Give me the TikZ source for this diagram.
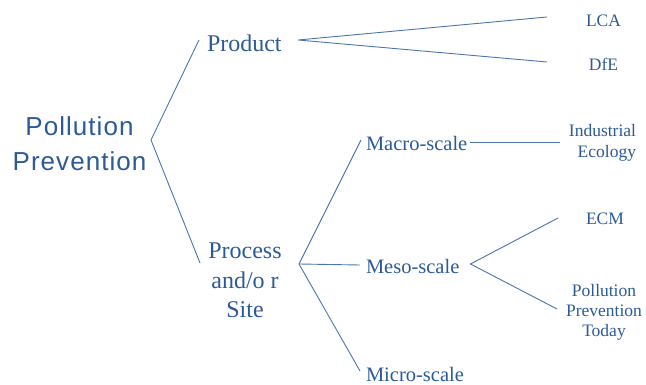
\documentclass[tikz,border=0pt]{standalone}
\usepackage{fontspec}
\setmainfont{Liberation Serif}
\newfontfamily\titlefont{Liberation Sans}[LetterSpace=4.0]
\definecolor{inkblue}{HTML}{2C5A97}
\definecolor{lineblue}{HTML}{4A74AE}
\begin{document}
\begin{tikzpicture}[x=1pt,y=-1pt,
  lbl/.style={inner sep=0pt,outer sep=0pt,text=inkblue},
  big/.style={lbl,font=\titlefont\fontsize{26}{35}\selectfont,align=center},
  mid/.style={lbl,font=\fontsize{24}{29.5}\selectfont,align=center},
  scale label/.style={lbl,font=\fontsize{20.5}{24}\selectfont},
  small/.style={lbl,font=\fontsize{17.5}{20}\selectfont},
  branch/.style={draw=lineblue,line width=0.9pt}]
\useasboundingbox (0,0) rectangle (646,385);

% text nodes
\node[big,anchor=north] (pp) at (79.5,117) {Pollution\\Prevention};
\node[mid,anchor=west] (prod) at (207,43) {Product};
\node[mid,anchor=north] (proc) at (245,243) {Process\\and/o r\\Site};
\node[scale label,anchor=west] (macro) at (366,143) {Macro-scale};
\node[scale label,anchor=west] (meso) at (366,266) {Meso-scale};
\node[scale label,anchor=west] (micro) at (366,374.5) {Micro-scale};
\node[small] (lca) at (603.5,20.5) {LCA};
\node[small] (dfe) at (603.5,64.5) {DfE};
\node[small,align=right,anchor=north east,font=\fontsize{17.5}{21}\selectfont] (ie) at (636,124.5) {Industrial\\Ecology};
\node[small] (ecm) at (605,219) {ECM};
\node[small,align=center,anchor=north] (ppt) at (604,284.5) {Pollution\\Prevention\\Today};

% branch points and line ends
\coordinate (v0) at (151,140);
\coordinate (v1) at (298,40);
\coordinate (v2) at (299,264);
\coordinate (v3) at (470.5,264);
\coordinate (prodIn) at (199,40);
\coordinate (procIn) at (200,263);
\coordinate (lcaIn) at (547,17);
\coordinate (dfeIn) at (547,62);
\coordinate (macroIn) at (361,140);
\coordinate (mesoIn) at (360,265);
\coordinate (microIn) at (360,371);
\coordinate (macroOut) at (470,142);
\coordinate (ieIn) at (560,142);
\coordinate (ecmIn) at (558,218);
\coordinate (pptIn) at (557,309);

% connectors
\draw[branch] (prodIn) -- (v0) -- (procIn);
\draw[branch] (lcaIn) -- (v1) -- (dfeIn);
\draw[branch] (macroIn) -- (v2) -- (microIn);
\draw[branch] (v2) -- (mesoIn);
\draw[branch] (macroOut) -- (ieIn);
\draw[branch] (ecmIn) -- (v3) -- (pptIn);
\end{tikzpicture}
\end{document}
